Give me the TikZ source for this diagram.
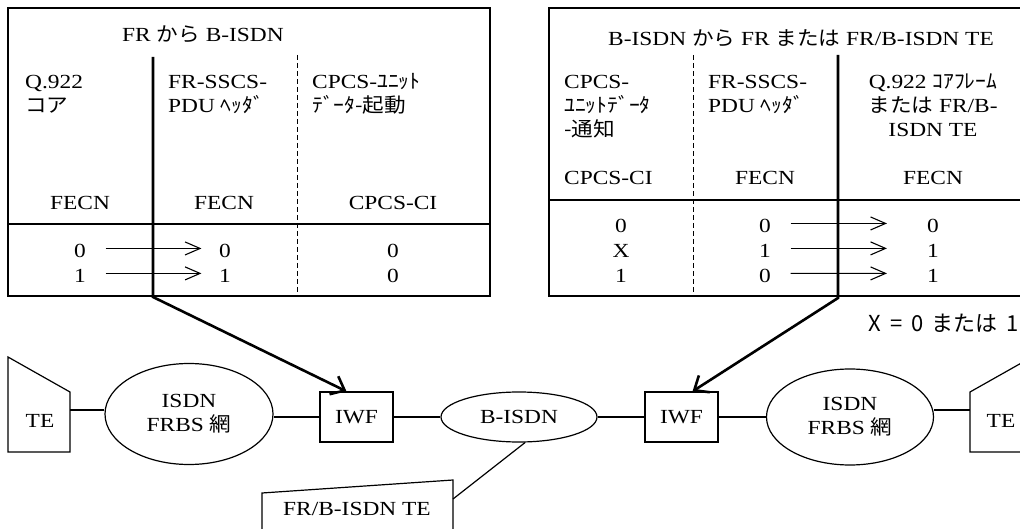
\documentclass[tikz,border=0pt]{standalone}
\usepackage{fontspec}
\setmainfont{Liberation Serif}[FakeStretch=1.17]
\newfontfamily\jp{Noto Sans CJK JP}[FakeStretch=1.08]
\newfontfamily\jpsans{Noto Sans CJK JP}
\usetikzlibrary{arrows.meta,shapes.geometric,calc}

\begin{document}
\begin{tikzpicture}[x=1pt,y=-1pt,
  every node/.style={inner sep=0pt, font=\fontsize{20}{24}\selectfont},
  frame/.style={line width=1.2pt},
  sepline/.style={line width=1pt, dash pattern=on 5pt off 3pt},
  heavyline/.style={line width=2.6pt, -{Straight Barb[length=12pt,width=20pt]}},
  flow/.style={line width=1.1pt, -{Straight Barb[length=15pt,width=13pt]}},
  link/.style={line width=1.2pt},
  hd/.style={anchor=base west},
  cv/.style={anchor=base}]
\useasboundingbox (0,0) rectangle (1020,529);

% ---------- network ----------
\node[ellipse, draw, link, minimum width=168pt, minimum height=101pt, align=center] (isdnL) at (189,414) {ISDN\\FRBS {\jp 網}};
\node[draw, link, minimum width=73pt, minimum height=50pt] (iwfL) at (356.5,417) {IWF};
\node[ellipse, draw, link, minimum width=156pt, minimum height=50pt] (bisdn) at (519,417) {B-ISDN};
\node[draw, link, minimum width=73pt, minimum height=50pt] (iwfR) at (681.5,417) {IWF};
\node[ellipse, draw, link, minimum width=167pt, minimum height=96pt, align=center] (isdnR) at (850,417) {ISDN\\FRBS {\jp 網}};

% terminal outlines
\draw[link] (8,357) -- (70,392) -- (70,452) -- (8,452) -- cycle;
\node[cv] (teL) at (40,427) {TE};
\draw[link] (970,392) -- (1032,357) -- (1032,452) -- (970,452) -- cycle;
\node[cv] (teR) at (1001,427) {TE};
\draw[link] (262,493) -- (453,480) -- (453,540) -- (262,540) -- cycle;
\node[cv] (frte) at (357,515) {FR/B-ISDN TE};
\coordinate (teLport) at (70,410);
\coordinate (teRport) at (970,410);
\coordinate (frteport) at (453,499);

\draw[link] (teLport) -- (teLport -| isdnL.west);
\draw[link] (isdnL.east |- iwfL.west) -- (iwfL.west);
\draw[link] (iwfL) -- (bisdn);
\draw[link] (bisdn) -- (iwfR);
\draw[link] (iwfR) -- (isdnR);
\draw[link] (teRport -| isdnR.east) -- (teRport);
\draw[link] ([xshift=6pt]bisdn.south) -- (frteport);

% ---------- left table: FR -> B-ISDN ----------
\draw[frame] (8,8) rectangle (490,296);
\draw[frame] (8,224) -- (490,224);
\draw[sepline] (297,55) -- (297,296);
\node[cv] (ltitle) at (203,42) {FR {\jp から} B-ISDN};
\node[hd] (lh1a) at (25,89) {Q.922};
\node[hd] (lh1b) at (25,113) {\jp コア};
\node[hd] (lh2a) at (168,89) {FR-SSCS-};
\node[hd] (lh2b) at (168,113) {PDU {\jp ﾍｯﾀﾞ}};
\node[hd] (lh3a) at (312,89) {CPCS-{\jp ﾕﾆｯﾄ}};
\node[hd] (lh3b) at (312,113) {\jp ﾃﾞｰﾀ-起動};
\node[cv] (lf1) at (80,210) {FECN};
\node[cv] (lf2) at (224,210) {FECN};
\node[cv] (lf3) at (393,210) {CPCS-CI};
\node[cv] (la0) at (80,258) {0};
\node[cv] (la1) at (80,283) {1};
\node[cv] (lb0) at (225,258) {0};
\node[cv] (lb1) at (225,283) {1};
\node[cv] (lc0) at (393,258) {0};
\node[cv] (lc1) at (393,283) {0};
\draw[flow, shorten <=19.5pt, shorten >=17.5pt] ([yshift=3pt]la0.east) -- ([yshift=3pt]lb0.west);
\draw[flow, shorten <=19.5pt, shorten >=17.5pt] ([yshift=3pt]la1.east) -- ([yshift=3pt]lb1.west);
\coordinate (lbartop) at (153,57);
\coordinate (lbarbot) at (153,297);
\draw[heavyline] (lbartop) -- (lbarbot) -- ([xshift=-10pt]iwfL.north);

% ---------- right table: B-ISDN -> FR or FR/B-ISDN TE ----------
\draw[frame] (1040,8) -- (549,8) -- (549,296) -- (1040,296);
\draw[frame] (549,200) -- (1040,200);
\draw[sepline] (693,55) -- (693,296);
\node[cv] (rtitle) at (801,46) {B-ISDN {\jp から} FR {\jp または} FR/B-ISDN TE};
\node[hd] (rh1a) at (564,89) {CPCS-};
\node[hd] (rh1b) at (564,113) {\jp ﾕﾆｯﾄﾃﾞｰﾀ};
\node[hd] (rh1c) at (564,137) {\jp -通知};
\node[hd] (rh2a) at (708,89) {FR-SSCS-};
\node[hd] (rh2b) at (708,113) {PDU {\jp ﾍｯﾀﾞ}};
\node[cv] (rh3a) at (933,89) {Q.922 {\jp ｺｱﾌﾚｰﾑ}};
\node[cv] (rh3b) at (933,113) {{\jp または} FR/B-};
\node[cv] (rh3c) at (933,137) {ISDN TE};
\node[hd] (rf1) at (564,185) {CPCS-CI};
\node[cv] (rf2) at (765,185) {FECN};
\node[cv] (rf3) at (933,185) {FECN};
\node[cv] (ra0) at (621,233) {0};
\node[cv] (ra1) at (621,258) {X};
\node[cv] (ra2) at (621,283) {1};
\node[cv] (rb0) at (765,233) {0};
\node[cv] (rb1) at (765,258) {1};
\node[cv] (rb2) at (765,283) {0};
\node[cv] (rc0) at (933,233) {0};
\node[cv] (rc1) at (933,258) {1};
\node[cv] (rc2) at (933,283) {1};
\draw[flow, shorten <=19.5pt, shorten >=40pt] ([yshift=3pt]rb0.east) -- ([yshift=3pt]rc0.west);
\draw[flow, shorten <=19.5pt, shorten >=40pt] ([yshift=3pt]rb1.east) -- ([yshift=3pt]rc1.west);
\draw[flow, shorten <=19.5pt, shorten >=40pt] ([yshift=3pt]rb2.east) -- ([yshift=3pt]rc2.west);
\coordinate (rbartop) at (838,55);
\coordinate (rbarbot) at (838,298);
\draw[heavyline] (rbartop) -- (rbarbot) -- ([xshift=11pt]iwfR.north);

\node[anchor=base east, font=\jpsans\fontsize{22}{26}\selectfont] (xnote) at (1019,331)
  {X\hspace{9pt}=\hspace{9pt}0\hspace{8pt}または\hspace{9pt}1};
\end{tikzpicture}
\end{document}
